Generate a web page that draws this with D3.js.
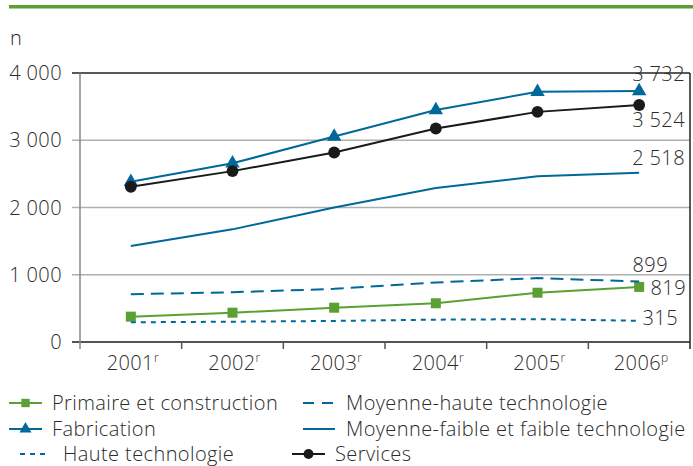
<!DOCTYPE html>
<html>
<head>
<meta charset="utf-8">
<script src="https://cdnjs.cloudflare.com/ajax/libs/d3/7.8.5/d3.min.js"></script>
<style>
  body { margin: 0; background: #fff; }
  text { font-family: "Open Sans", "Liberation Sans", Arial, sans-serif; font-weight: 300; fill: #2b2b2b; letter-spacing: 0.4px; }
</style>
</head>
<body>
<div id="graph"></div>
<script>
var years = ["2001", "2002", "2003", "2004", "2005", "2006"];
var yearMarks = ["r", "r", "r", "r", "r", "p"];
var yTicks = [0, 1000, 2000, 3000, 4000];

var primaire = [377, 436, 510, 576, 733, 819];
var fabrication = [2382, 2657, 3055, 3450, 3720, 3732];
var haute = [293, 302, 313, 332, 340, 315];
var moyHaute = [710, 740, 790, 885, 950, 899];
var moyFaible = [1426, 1675, 2000, 2290, 2465, 2518];
var services = [2308, 2541, 2818, 3175, 3422, 3524];

var endLabels = ["3 732", "3 524", "2 518", "899", "819", "315"];

var blue = "#00689a", green = "#5ba033", black = "#1a1a1a";
var fontSize = 20;

var series = [
  { name: "Primaire et construction", values: primaire, color: green, dash: null, symbol: d3.symbolSquare, size: 100 },
  { name: "Fabrication", values: fabrication, color: blue, dash: null, symbol: d3.symbolTriangle, size: 90 },
  { name: "Haute technologie", values: haute, color: blue, dash: "5,5", symbol: null },
  { name: "Moyenne-haute technologie", values: moyHaute, color: blue, dash: "13,7", symbol: null },
  { name: "Moyenne-faible et faible technologie", values: moyFaible, color: blue, dash: null, symbol: null },
  { name: "Services", values: services, color: black, dash: null, symbol: d3.symbolCircle, size: 110 }
];

var W = 693, H = 466;
var svg = d3.select("#graph").append("svg")
    .attr("width", W).attr("height", H);

// header rule
svg.append("rect").attr("x", 9).attr("y", 5).attr("width", W - 9).attr("height", 3).attr("fill", "#5a9e35");
svg.append("rect").attr("x", 9).attr("y", 8).attr("width", W - 9).attr("height", 1).attr("fill", "#a9d08e");

var x = d3.scaleBand().domain(years).range([80, 690]);
var y = d3.scaleLinear().domain([0, 4000]).range([342, 73]);
var cx = function (i) { return x(years[i]) + x.bandwidth() / 2; };

// gridlines and y labels
svg.selectAll(".grid").data(yTicks).enter().append("line")
    .attr("x1", 72).attr("x2", 690)
    .attr("y1", function (d) { return y(d); }).attr("y2", function (d) { return y(d); })
    .attr("stroke", function (d) { return d === 4000 ? "#222" : (d === 0 ? "#555" : "#b0b0b0"); })
    .attr("stroke-width", function (d) { return d === 0 ? 2 : 1.3; });

svg.selectAll(".ylab").data(yTicks).enter().append("text")
    .attr("x", 62).attr("y", function (d) { return y(d); })
    .attr("dy", "0.36em").attr("text-anchor", "end").attr("font-size", fontSize)
    .text(function (d) { return d3.format(",")(d).replace(",", " "); });

svg.append("text").attr("x", 10).attr("y", 45).attr("font-size", fontSize).text("n");

// left axis and right border
svg.append("line").attr("x1", 80).attr("x2", 80).attr("y1", y(4000)).attr("y2", 349)
    .attr("stroke", "#888").attr("stroke-width", 1.5);
svg.append("line").attr("x1", 690).attr("x2", 690).attr("y1", y(4000)).attr("y2", 349)
    .attr("stroke", "#222").attr("stroke-width", 1.5);

// x ticks at band edges
svg.selectAll(".xtick").data(years.slice(1)).enter().append("line")
    .attr("x1", function (d) { return x(d); }).attr("x2", function (d) { return x(d); })
    .attr("y1", y(0)).attr("y2", 349)
    .attr("stroke", "#555").attr("stroke-width", 1.5);

var xl = svg.selectAll(".xlab").data(years).enter().append("text")
    .attr("x", function (d, i) { return cx(i) + 2; }).attr("y", 370)
    .attr("text-anchor", "middle").attr("font-size", fontSize);
xl.append("tspan").text(function (d) { return d; });
xl.append("tspan").attr("font-size", 12).attr("dy", -8).text(function (d, i) { return yearMarks[i]; });

// lines
var line = d3.line()
    .x(function (d, i) { return cx(i); })
    .y(function (d) { return y(d); });

series.forEach(function (s) {
  svg.append("path").datum(s.values)
      .attr("fill", "none").attr("stroke", s.color).attr("stroke-width", 2)
      .attr("stroke-dasharray", s.dash)
      .attr("d", line);
  if (s.symbol) {
    svg.selectAll(null).data(s.values).enter().append("path")
        .attr("d", d3.symbol().type(s.symbol).size(s.size))
        .attr("fill", s.color)
        .attr("transform", function (d, i) { return "translate(" + cx(i) + "," + y(d) + ")"; });
  }
});

// end labels
var labelPos = [
  { x: 685, y: 81 }, { x: 685, y: 127 }, { x: 685, y: 165 },
  { x: 668, y: 272 }, { x: 686, y: 295 }, { x: 678, y: 325 }
];
svg.selectAll(".endlab").data(endLabels).enter().append("text")
    .attr("x", function (d, i) { return labelPos[i].x; })
    .attr("y", function (d, i) { return labelPos[i].y; })
    .attr("text-anchor", "end").attr("font-size", fontSize)
    .text(function (d) { return d; });

// legend
var legendPos = [
  { x1: 9, x2: 42, tx: 52, y: 403 },
  { x1: 9, x2: 42, tx: 52, y: 429 },
  { x1: 20, x2: 47, tx: 63, y: 454 },
  { x1: 303, x2: 335, tx: 346, y: 403 },
  { x1: 303, x2: 335, tx: 346, y: 429 },
  { x1: 292, x2: 325, tx: 335, y: 454 }
];
var leg = svg.selectAll(".leg").data(series).enter().append("g");
leg.append("line")
    .attr("x1", function (d, i) { return legendPos[i].x1; })
    .attr("x2", function (d, i) { return legendPos[i].x2; })
    .attr("y1", function (d, i) { return legendPos[i].y; })
    .attr("y2", function (d, i) { return legendPos[i].y; })
    .attr("stroke", function (d) { return d.color; }).attr("stroke-width", 2)
    .attr("stroke-dasharray", function (d) { return d.dash === "13,7" ? "11,8" : d.dash; });
leg.filter(function (d) { return d.symbol; }).append("path")
    .attr("d", function (d) { return d3.symbol().type(d.symbol).size(d.size * 0.7)(); })
    .attr("fill", function (d) { return d.color; })
    .attr("transform", function (d) {
      var p = legendPos[series.indexOf(d)];
      return "translate(" + ((p.x1 + p.x2) / 2) + "," + p.y + ")";
    });
leg.append("text")
    .attr("x", function (d, i) { return legendPos[i].tx; })
    .attr("y", function (d, i) { return legendPos[i].y; })
    .attr("dy", "0.34em").attr("font-size", fontSize)
    .text(function (d) { return d.name; });
</script>
</body>
</html>
